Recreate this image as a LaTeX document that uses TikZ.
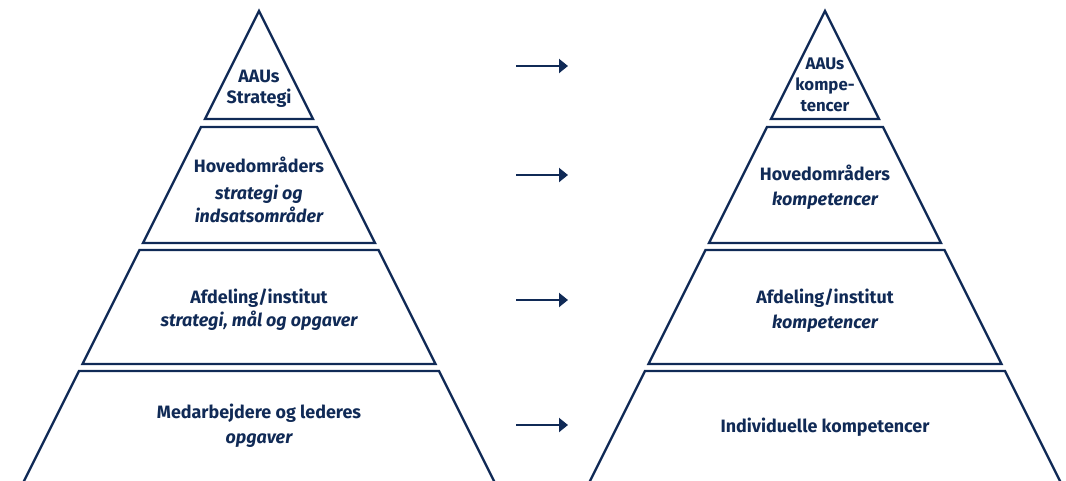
\documentclass[tikz,border=0pt]{standalone}
\usepackage{fontspec}
\setmainfont{Fira Sans}
\usetikzlibrary{arrows.meta}
\definecolor{navy}{RGB}{16,42,86}
\begin{document}
\begin{tikzpicture}[x=1pt,y=-1pt,
  tierline/.style={draw=navy,line width=2.3pt,line join=miter},
  lbl/.style={anchor=base,text=navy,inner sep=0pt,font=\fontsize{17.9}{21}\selectfont\bfseries},
  lbli/.style={lbl,font=\fontsize{17.9}{21}\selectfont\bfseries\itshape},
  lbls/.style={lbl,font=\fontsize{16.8}{20}\selectfont\bfseries},
  flow/.style={draw=navy,line width=2pt,-{Triangle[length=9pt,width=14pt]}}]
\useasboundingbox (0,0) rectangle (1066,480);
\clip (0,0) rectangle (1066,480);

% left pyramid (strategy)
\draw[tierline] (259,11) -- (313,119) -- (205,119) -- cycle;
\draw[tierline] (201,127) -- (317,127) -- (375,243) -- (143,243) -- cycle;
\draw[tierline] (139.5,250) -- (378.5,250) -- (435.5,364) -- (82.5,364) -- cycle;
\draw[tierline] (79,371) -- (439,371) -- (509,511) -- (9,511) -- cycle;

% right pyramid (competences)
\draw[tierline] (825,11) -- (879,119) -- (771,119) -- cycle;
\draw[tierline] (767,127) -- (883,127) -- (941,243) -- (709,243) -- cycle;
\draw[tierline] (705.5,250) -- (944.5,250) -- (1001.5,364) -- (648.5,364) -- cycle;
\draw[tierline] (645,371) -- (1005,371) -- (1075,511) -- (575,511) -- cycle;

% labels, left
\node[lbl]  (s1a) at (259,82)  {AAUs};
\node[lbl]  (s1b) at (259,103) {Strategi};
\node[lbl]  (s2a) at (259,172) {Hovedområders};
\node[lbli] (s2b) at (259,199) {strategi og};
\node[lbli] (s2c) at (259,222) {indsatsområder};
\node[lbl]  (s3a) at (259,303) {Afdeling/institut};
\node[lbli] (s3b) at (259,326) {strategi, mål og opgaver};
\node[lbl]  (s4a) at (259,418) {Medarbejdere og lederes};
\node[lbli] (s4b) at (259,443) {opgaver};

% labels, right
\node[lbls] (k1a) at (825,69)  {AAUs};
\node[lbls] (k1b) at (825,90)  {kompe-};
\node[lbls] (k1c) at (825,111) {tencer};
\node[lbl]  (k2a) at (825,180) {Hovedområders};
\node[lbli] (k2b) at (825,205) {kompetencer};
\node[lbl]  (k3a) at (825,303) {Afdeling/institut};
\node[lbli] (k3b) at (825,328) {kompetencer};
\node[lbl]  (k4a) at (825,432) {Individuelle kompetencer};

% arrows between the levels
\foreach \i/\y in {1/66,2/175,3/300,4/425}{
  \coordinate (a\i) at (516,\y);
  \coordinate (b\i) at (568,\y);
  \draw[flow] (a\i) -- (b\i);
}
\end{tikzpicture}
\end{document}
